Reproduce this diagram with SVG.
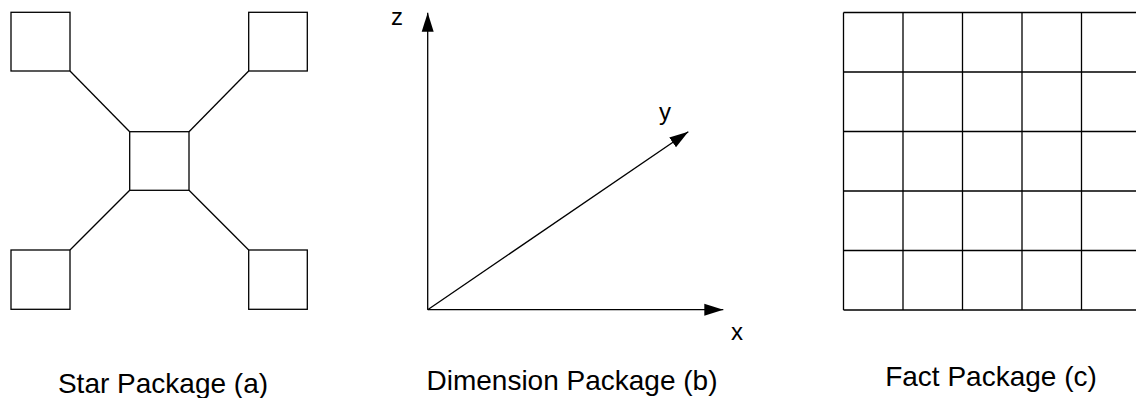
<svg xmlns="http://www.w3.org/2000/svg" width="1136" height="398" viewBox="0 0 1136 398">
<style>
.box{fill:#fff;stroke:#000;stroke-width:1.3}
.ln{fill:none;stroke:#000;stroke-width:1.3}
.cap{font-family:"Liberation Sans",Arial,sans-serif;font-size:28px;fill:#000;text-anchor:middle}
.ax{font-family:"Liberation Sans",Arial,sans-serif;font-size:24px;fill:#000}
</style>
<defs>
<marker id="arr" markerUnits="userSpaceOnUse" markerWidth="20" markerHeight="14" refX="19" refY="6.5" orient="auto" viewBox="0 0 20 13">
<path d="M0,0.5 L19,6.5 L0,12.5 z" fill="#000"/>
</marker>
</defs>
<rect width="1136" height="398" fill="#fff"/>
<g id="star">
<g id="connectors">
<line class="ln" x1="70" y1="71" x2="129.7" y2="131.7"/>
<line class="ln" x1="248.7" y1="71" x2="189" y2="131.7"/>
<line class="ln" x1="70" y1="250" x2="129.7" y2="190.3"/>
<line class="ln" x1="248.7" y1="250" x2="189" y2="190.3"/>
</g>
<g id="box-tl"><rect class="box" x="11" y="12.3" width="59" height="58.7"/></g>
<g id="box-tr"><rect class="box" x="248.7" y="12.3" width="58.6" height="58.7"/></g>
<g id="box-center"><rect class="box" x="129.7" y="131.7" width="59.3" height="58.6"/></g>
<g id="box-bl"><rect class="box" x="11" y="250" width="59" height="59.3"/></g>
<g id="box-br"><rect class="box" x="248.7" y="250" width="58.6" height="59.3"/></g>
<text class="cap" x="163" y="393">Star Package (a)</text>
</g>
<g id="dimension">
<g id="axes">
<line class="ln" x1="427.7" y1="309.7" x2="427.7" y2="12.7" marker-end="url(#arr)"/>
<line class="ln" x1="427.7" y1="309.7" x2="723.3" y2="309.7" marker-end="url(#arr)"/>
<line class="ln" x1="427.7" y1="309.7" x2="688.3" y2="131.7" marker-end="url(#arr)"/>
</g>
<text class="ax" x="391" y="25">z</text>
<text class="ax" x="659" y="120">y</text>
<text class="ax" x="731" y="340">x</text>
<text class="cap" x="572" y="390">Dimension Package (b)</text>
</g>
<g id="fact">
<g id="grid">
<path class="ln" d="M843.5,12.5H1141M843.5,72H1141M843.5,131.5H1141M843.5,191H1141M843.5,250.5H1141M843.5,310H1141M843.5,12.5V310M903,12.5V310M962.5,12.5V310M1022,12.5V310M1081.5,12.5V310M1141,12.5V310"/>
</g>
<text class="cap" x="991" y="386">Fact Package (c)</text>
</g>
</svg>
